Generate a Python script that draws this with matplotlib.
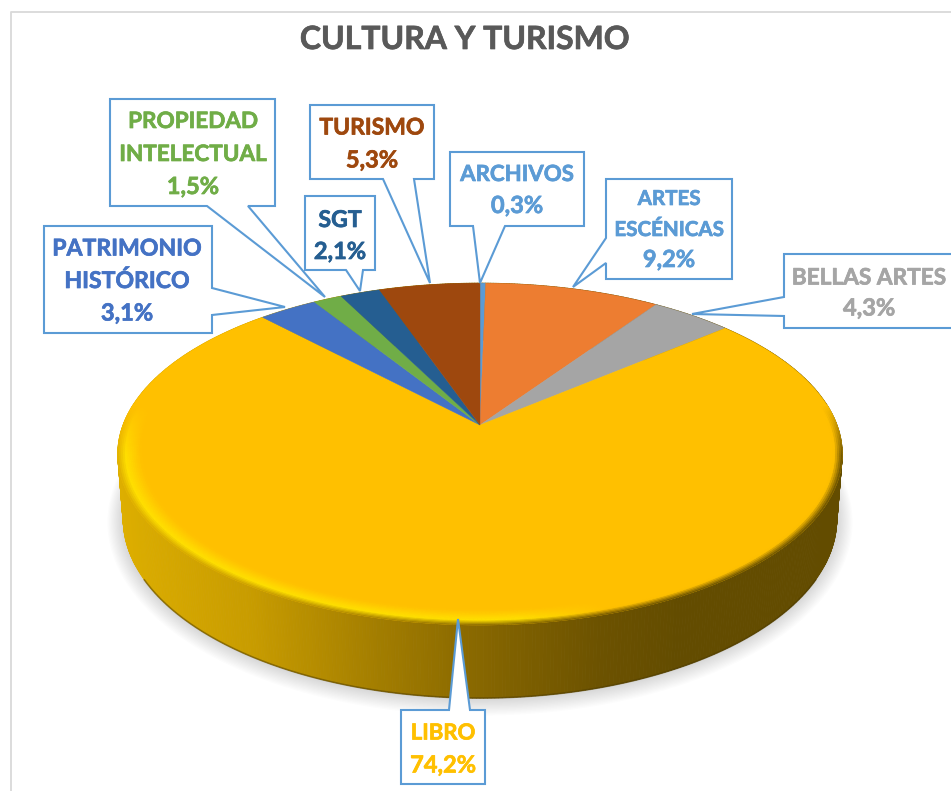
# Cultura y turismo 3D pie with callouts, drawn in pixel coordinates.

import numpy as np
import matplotlib
matplotlib.use("Agg")
import matplotlib.pyplot as plt
import matplotlib.patheffects as pe
from matplotlib.collections import PolyCollection
from matplotlib.colors import to_rgb
from matplotlib.patches import Polygon

plt.rcParams['font.family'] = ['Lato', 'DejaVu Sans']

title = "CULTURA Y TURISMO"
names = [["ARCHIVOS"], ["ARTES", "ESCÉNICAS"], ["BELLAS ARTES"], ["LIBRO"],
         ["PATRIMONIO", "HISTÓRICO"], ["PROPIEDAD", "INTELECTUAL"], ["SGT"], ["TURISMO"]]
shares = [0.3, 9.2, 4.3, 74.2, 3.1, 1.5, 2.1, 5.3]

colors = ["#5B9BD5", "#ED7D31", "#A5A5A5", "#FFC000", "#4472C4", "#70AD47", "#255E91", "#9E480E"]
text_colors = ["#5B9BD5", "#5B9BD5", "#A5A5A5", "#FFC000", "#4472C4", "#70AD47", "#255E91", "#9E480E"]

# callout outlines, same order as names
outlines = [
    [(450, 152), (584, 152), (584, 226), (505, 226), (480, 283), (473, 226), (450, 226)],
    [(606, 179), (732, 179), (732, 279), (606, 279), (606, 263), (573, 287), (606, 238)],
    [(784, 254), (970, 254), (970, 328), (784, 328), (784, 316), (692, 314), (784, 297)],
    [(401, 710), (449, 710), (458, 619), (470, 710), (485, 710), (485, 784), (401, 784)],
    [(44, 226), (212, 226), (212, 288), (285, 307), (212, 315), (212, 333), (44, 333)],
    [(110, 99), (275, 99), (275, 206), (248, 206), (325, 297), (207, 206), (110, 206)],
    [(305, 196), (375, 196), (375, 270), (363, 270), (360, 291), (346, 270), (305, 270)],
    [(310, 105), (434, 105), (434, 179), (414, 179), (430, 283), (383, 179), (310, 179)],
]
label_centers = [(517, 189), (669, 228), (869, 292), (443, 748), (127, 280), (193, 153), (340, 235), (372, 143)]
line_pitch = [32, 31, 31, 33, 32.5, 33, 32, 33]
name_sizes = [16.0, 14.8, 16.3, 15.9, 16.6, 16.2, 16.6, 16.5]

CX, CY = 480, 425
A, B, K = 357, 166, 0.17


def project(r, theta):
    x = r * np.sin(theta)
    y = -r * np.cos(theta)
    d = 1 - K * y
    return CX + A * x / d, CY + B * y / d


def project_low(r, theta):
    x, y = project(r, theta)
    return CX + (x - CX) * 0.985, CY + (y - CY) * 1.047 + 63.7


def blend(c1, c2, t):
    return np.asarray(c1) * (1 - t) + np.asarray(c2) * t


stop_x = [120, 250, 380, 500, 600, 680, 840]
stop_c = np.array([to_rgb(c) for c in ["#DDAE00", "#C89C00", "#A27D00", "#826300", "#6C5200", "#634C00", "#634C00"]])


def side_color(x):
    return np.array([np.interp(x, stop_x, stop_c[:, i]) for i in range(3)]).T


fig = plt.figure(figsize=(9.51, 7.91), dpi=100)
ax = fig.add_axes([0, 0, 1, 1])
ax.set_xlim(0, 951)
ax.set_ylim(791, 0)
ax.axis("off")

# chart frame
ax.plot([10.5, 10.5, 951], [791, 11.5, 11.5], color="#D9D9D9", lw=1.3, zorder=1)

# soft shadow under the disc
th = np.linspace(0, 2 * np.pi, 361)
for grow in np.linspace(1.08, 0.99, 16):
    sx, sy = project_low(1.0, th)
    sx = CX + (sx - CX) * (1 + (grow - 1) * 0.55)
    sy = 480 + (sy - 480) * grow
    ax.add_patch(Polygon(np.column_stack([sx, sy]), fc="#808080", ec="none", alpha=0.022, zorder=2))

# side wall, one strip per step of angle
th = np.linspace(0, 2 * np.pi, 721)
order = np.argsort(-np.cos(th[:-1]))
quads, fills = [], []
for i in order:
    x0, y0 = project(1.0, th[i])
    x1, y1 = project(1.0, th[i + 1])
    x2, y2 = project_low(1.0, th[i + 1])
    x3, y3 = project_low(1.0, th[i])
    quads.append([(x0, y0), (x1, y1), (x2, y2), (x3, y3)])
    fills.append(side_color((x0 + x1) / 2))
ax.add_collection(PolyCollection(quads, facecolors=fills, edgecolors=fills, linewidths=0.6, zorder=3))

# dark line along the bottom edge
front = np.linspace(np.pi * 0.66, np.pi * 1.34, 300)
lx, ly = project_low(1.0, front)
ax.plot(lx, ly, color="#4A3900", lw=1.2, alpha=0.5, zorder=3)

# top faces
edges = np.concatenate([[0], np.cumsum(shares)]) / np.sum(shares) * 2 * np.pi
for i, c in enumerate(colors):
    t = np.linspace(edges[i], edges[i + 1], max(int(np.degrees(edges[i + 1] - edges[i])) * 2, 3))
    px, py = project(1.0, t)
    pts = np.column_stack([np.r_[CX, px], np.r_[CY, py]])
    ax.add_patch(Polygon(pts, fc=c, ec=c, lw=0.3, zorder=4))

# bevel on the rim of the front half
face = np.array(to_rgb("#FFC000"))
glow = np.array(to_rgb("#FFE000"))
rings = np.linspace(1.0, 0.935, 14)
th = np.radians(np.linspace(edges[2] * 180 / np.pi, edges[4] * 180 / np.pi, 500))
quads, fills = [], []
for j in range(len(rings) - 1):
    t = (j + 0.5) / (len(rings) - 1)
    for i in range(len(th) - 1):
        m = (th[i] + th[i + 1]) / 2
        y = -np.cos(m)
        w = np.clip((y + 0.12) / 0.3, 0, 1)
        if w <= 0:
            continue
        mx = project(1.0, m)[0]
        hi = blend(glow, face, np.clip((mx - 520) / 90, 0, 1))
        edge = side_color(mx)
        if t < 0.35:
            c = blend(edge, hi, t / 0.35)
        else:
            c = blend(hi, face, (t - 0.35) / 0.65)
        c = blend(face, c, w)
        a0, b0 = project(rings[j], th[i])
        a1, b1 = project(rings[j], th[i + 1])
        a2, b2 = project(rings[j + 1], th[i + 1])
        a3, b3 = project(rings[j + 1], th[i])
        quads.append([(a0, b0), (a1, b1), (a2, b2), (a3, b3)])
        fills.append(c)
ax.add_collection(PolyCollection(quads, facecolors=fills, edgecolors=fills, linewidths=0.4, zorder=5))

ax.text(465, 49, title, color="#595959", fontsize=23, fontweight="bold", ha="center", va="baseline", zorder=8,
        path_effects=[pe.withStroke(linewidth=0.5, foreground="#595959")])

# callouts
for i in range(len(names)):
    ax.add_patch(Polygon(outlines[i], fc="white", ec="#5B9BD5", lw=1.5, joinstyle="miter", zorder=6))
    lines = names[i] + [f"{shares[i]:.1f}%".replace(".", ",")]
    mx, my = label_centers[i]
    for n, line in enumerate(lines):
        y = my + (n - (len(lines) - 1) / 2) * line_pitch[i]
        size = 17 if n == len(lines) - 1 else name_sizes[i]
        ax.text(mx, y + 8, line, color=text_colors[i], fontsize=size, fontweight="bold",
                ha="center", va="baseline", zorder=7,
                path_effects=[pe.withStroke(linewidth=0.5, foreground=text_colors[i])])

fig.savefig("out.png", dpi=100)
